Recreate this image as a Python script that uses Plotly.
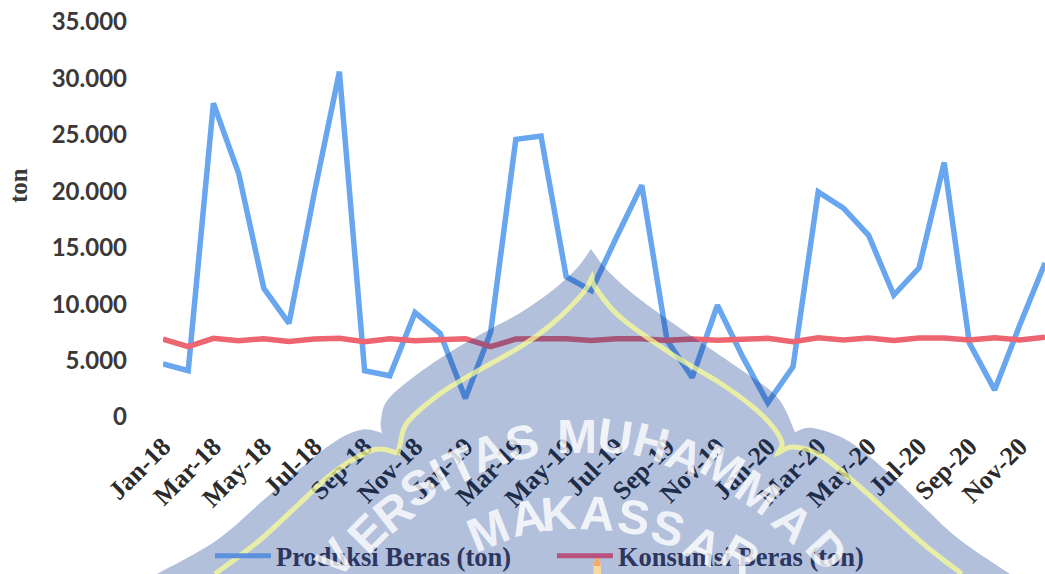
import plotly.graph_objects as go

W, H = 1045, 574

bulan = [
    "Jan-18", "Feb-18", "Mar-18", "Apr-18", "May-18", "Jun-18", "Jul-18", "Aug-18", "Sep-18", "Oct-18", "Nov-18", "Dec-18",
    "Jan-19", "Feb-19", "Mar-19", "Apr-19", "May-19", "Jun-19", "Jul-19", "Aug-19", "Sep-19", "Oct-19", "Nov-19", "Dec-19",
    "Jan-20", "Feb-20", "Mar-20", "Apr-20", "May-20", "Jun-20", "Jul-20", "Aug-20", "Sep-20", "Oct-20", "Nov-20", "Dec-20",
]
produksi = [
    4700, 4100, 27800, 21600, 11400, 8300, 19800, 30600, 4100, 3650, 9250, 7400,
    1650, 7500, 24600, 24900, 12430, 11200, 15950, 20550, 6800, 3500, 9900, 5350,
    1250, 4450, 19950, 18500, 16100, 10800, 13200, 22550, 6550, 2400, 8150, 13650,
]
konsumsi = [
    6910, 6230, 6970, 6760, 6940, 6700, 6910, 6970, 6675, 6940, 6760, 6910,
    6940, 6230, 6910, 6940, 6940, 6790, 6940, 6940, 6790, 6920, 6790, 6880,
    6970, 6670, 7030, 6820, 7000, 6790, 7000, 7000, 6820, 7030, 6820, 7060,
]


def px(x, y):
    """Pixel position on the page to paper coordinates."""
    return x / W, 1 - y / H


def smooth(points):
    """Catmull-Rom curve through pixel points, as SVG cubic segments."""
    out = []
    n = len(points)
    for i in range(n - 1):
        p0 = points[max(i - 1, 0)]
        p1 = points[i]
        p2 = points[i + 1]
        p3 = points[min(i + 2, n - 1)]
        c1 = (p1[0] + (p2[0] - p0[0]) / 6, p1[1] + (p2[1] - p0[1]) / 6)
        c2 = (p2[0] - (p3[0] - p1[0]) / 6, p2[1] - (p3[1] - p1[1]) / 6)
        a, b, c = px(*c1), px(*c2), px(*p2)
        out.append(f"C{a[0]:.5f},{a[1]:.5f} {b[0]:.5f},{b[1]:.5f} {c[0]:.5f},{c[1]:.5f}")
    return " ".join(out)


def start(p):
    x, y = px(*p)
    return f"M{x:.5f},{y:.5f}"


# Crest outline of the university emblem, one run of curve between each cusp
crest_runs = [
    [(157, 574), (217, 540), (267, 497), (327, 447), (360, 430), (382, 433)],
    [(382, 433), (381, 420), (390, 397), (433, 363), (483, 333), (520, 313), (553, 290), (577, 268), (591, 249)],
    [(591, 249), (607, 270), (637, 297), (687, 333), (737, 367), (777, 397), (795, 432)],
    [(795, 432), (813, 428), (850, 442), (893, 477), (927, 510), (960, 540), (1010, 574)],
]
crest_path = start(crest_runs[0][0]) + " " + " ".join(smooth(r) for r in crest_runs) + " Z"

# Pale inner border of the crest
border_runs = [
    [(215, 574), (260, 540), (300, 503), (333, 473), (373, 450), (398, 453)],
    [(398, 453), (400, 445), (407, 423), (437, 396), (467, 377), (520, 347), (553, 323), (583, 293), (592, 277)],
    [(592, 277), (595, 287), (620, 317), (670, 353), (720, 383), (753, 407), (773, 427), (782, 443), (778, 453)],
    [(778, 453), (793, 447), (820, 455), (860, 487), (893, 517), (927, 547), (962, 574)],
]
border_path = start(border_runs[0][0]) + " " + " ".join(smooth(r) for r in border_runs)


def poly(points):
    parts = [px(*p) for p in points]
    return "M" + " L".join(f"{x:.5f},{y:.5f}" for x, y in parts) + " Z"


crest_shapes = [
    dict(type="path", xref="paper", yref="paper", path=crest_path, layer="above",
         fillcolor="rgba(2,45,138,0.30)", line=dict(width=0)),
    dict(type="path", xref="paper", yref="paper", path=border_path, layer="above",
         fillcolor="rgba(0,0,0,0)", line=dict(color="rgba(252,255,146,0.72)", width=5)),
    dict(type="path", xref="paper", yref="paper", layer="above",
         path=poly([(593.5, 574), (593.5, 565), (597, 553), (601, 565), (601, 574)]),
         fillcolor="#f8d9a0", line=dict(width=0)),
    dict(type="path", xref="paper", yref="paper", layer="above",
         path=poly([(593.5, 566), (597, 553), (601, 566)]),
         fillcolor="#f5a860", line=dict(width=0)),
]

# Emblem lettering: (character, centre x, centre y, rotation in degrees)
lettering = [
    ("V", 335, 558, -50), ("E", 367, 533, -45), ("R", 393, 512, -38), ("S", 418, 487, -32),
    ("I", 439, 475, -28), ("T", 460, 465, -25), ("A", 488, 452, -20), ("S", 522, 442, -13),
    ("M", 577, 436, 0), ("U", 615, 436, 8), ("H", 651, 442, 15), ("A", 685, 455, 22),
    ("M", 723, 466, 30), ("M", 758, 492, 35), ("A", 793, 522, 42), ("D", 827, 550, 48),
    ("M", 488, 530, -22), ("A", 527, 517, -12), ("K", 558, 513, -5), ("A", 597, 513, 3),
    ("S", 634, 517, 8), ("S", 668, 528, 15), ("A", 703, 545, 25), ("R", 740, 555, 30),
]
annotations = []
for ch, lx, ly, rot in lettering:
    ax, ay = px(lx, ly)
    annotations.append(dict(
        text=ch, x=ax, y=ay, xref="paper", yref="paper", showarrow=False,
        xanchor="center", yanchor="middle", textangle=rot,
        font=dict(family="Liberation Sans", size=48, color="rgba(255,255,255,0.8)", weight=700),
    ))

# Axis title, placed level with the upper half of the value axis
title_x, title_y = px(18, 186)
annotations.append(dict(
    text="ton", x=title_x, y=title_y, xref="paper", yref="paper", showarrow=False,
    xanchor="center", yanchor="middle", textangle=-90,
    font=dict(family="Liberation Serif", size=25, color="#3a3838", weight=700),
))

BLUE = "#69a6f0"
RED = "#ec6570"

fig = go.Figure()
fig.add_trace(go.Scatter(x=bulan, y=produksi, mode="lines", showlegend=False, cliponaxis=False,
                         line=dict(color=BLUE, width=5.5)))
fig.add_trace(go.Scatter(x=bulan, y=konsumsi, mode="lines", showlegend=False, cliponaxis=False,
                         line=dict(color=RED, width=5.5)))
# The legend sits on the crest, so its keys carry the tinted colours
fig.add_trace(go.Scatter(x=[None], y=[None], mode="lines", name="Produksi Beras (ton)",
                         line=dict(color="#5b90dc", width=5)))
fig.add_trace(go.Scatter(x=[None], y=[None], mode="lines", name="Konsumsi Beras (ton)",
                         line=dict(color="#b9527f", width=5)))

fig.update_layout(
    width=W, height=H, autosize=False,
    margin=dict(l=0, r=0, t=0, b=0, autoexpand=False),
    paper_bgcolor="white", plot_bgcolor="rgba(0,0,0,0)",
    separators=",.",
    shapes=crest_shapes,
    annotations=annotations,
    legend=dict(
        orientation="h", x=210 / W, y=1 - 556 / H, xanchor="left", yanchor="middle",
        itemwidth=56, entrywidth=271, entrywidthmode="pixels",
        bgcolor="rgba(0,0,0,0)", tracegroupgap=0,
        font=dict(family="Liberation Serif", size=26.5, color="#2c3660", weight=700),
    ),
    xaxis=dict(
        type="category", categoryorder="array", categoryarray=bulan,
        domain=[163 / W, 1], range=[0, 35], tickmode="linear", tick0=0, dtick=2,
        tickangle=-45, ticks="", showgrid=False, showline=False, zeroline=False,
        automargin=False, ticklabelstandoff=8,
        tickfont=dict(family="Liberation Serif", size=26, color="#2b2b2b", weight=700),
    ),
    yaxis=dict(
        domain=[1 - 417 / H, 1 - 22 / H], range=[0, 35000], tickmode="linear", tick0=0, dtick=5000,
        tickformat=",d", ticks="", showgrid=False, showline=False, zeroline=False,
        automargin=False, ticklabelstandoff=35,
        tickfont=dict(family="Lato", size=24, color="#3a3838", weight=700),
    ),
)

fig.write_html("out.html", config=dict(displayModeBar=False))
